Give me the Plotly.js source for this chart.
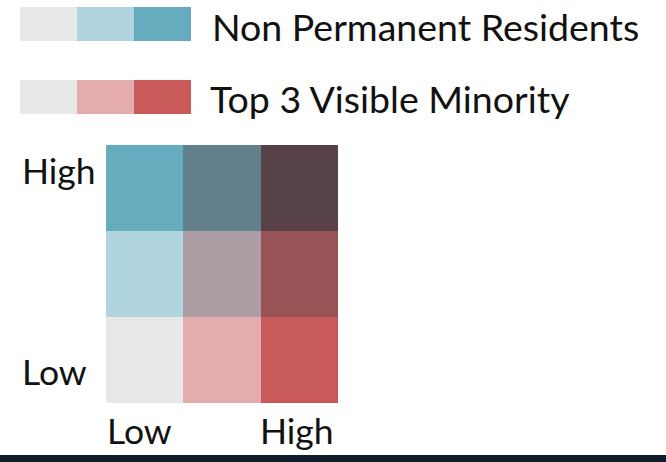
<!DOCTYPE html>
<html>
<head>
<meta charset="utf-8">
<script src="https://cdn.plot.ly/plotly-3.0.1.min.js"></script>
<style>
  html, body { margin: 0; padding: 0; background: #ffffff; }
  #chart { width: 666px; height: 462px; }
</style>
</head>
<body>
<div id="chart"></div>
<script>
// ---- data ----
const classColors = ['#e8e8e8', '#e4acac', '#c85a5a',
                     '#b0d5df', '#ad9ea5', '#985356',
                     '#64acbe', '#627f8c', '#574249'];
const levels = [0, 1, 2];
const gridZ = [[0, 1, 2], [3, 4, 5], [6, 7, 8]];   // rows: Non Permanent Residents Low->High, cols: Top 3 Visible Minority Low->High
const nprBarZ = [[0, 3, 6]];
const vmBarZ = [[0, 1, 2]];
const nprLabel = 'Non Permanent Residents';
const vmLabel = 'Top 3 Visible Minority';
const lowLabel = 'Low';
const highLabel = 'High';

// ---- build ----
const W = 666, H = 462;
const px = v => v / W;
const py = v => (H - v) / H;

const colorscale = classColors.map((c, i) => [i / (classColors.length - 1), c]);

const base = {
  type: 'heatmap', colorscale: colorscale, zmin: 0, zmax: classColors.length - 1,
  showscale: false, hoverinfo: 'skip', xgap: 0, ygap: 0
};

const traces = [
  Object.assign({}, base, { z: gridZ, x: levels, y: levels, xaxis: 'x', yaxis: 'y' }),
  Object.assign({}, base, { z: nprBarZ, x: levels, y: [0], xaxis: 'x2', yaxis: 'y2' }),
  Object.assign({}, base, { z: vmBarZ, x: levels, y: [0], xaxis: 'x3', yaxis: 'y3' })
];

const hid = { visible: false, fixedrange: true };
const fontFam = 'Lato, "Open Sans", sans-serif';
const txt = (text, x, y, size, xa) => ({
  text: text, xref: 'paper', yref: 'paper', x: x, y: y,
  xanchor: xa || 'left', yanchor: 'middle', showarrow: false,
  font: { family: fontFam, size: size, color: '#111111' }
});

const layout = {
  width: W, height: H,
  margin: { l: 0, r: 0, t: 0, b: 0, pad: 0 },
  paper_bgcolor: '#ffffff', plot_bgcolor: 'rgba(0,0,0,0)',
  showlegend: false,
  xaxis: Object.assign({ domain: [px(106), px(338)], range: [-0.5, 2.5], anchor: 'y' }, hid),
  yaxis: Object.assign({ domain: [py(403), py(145)], range: [-0.5, 2.5], anchor: 'x' }, hid),
  xaxis2: Object.assign({ domain: [px(20), px(191)], range: [-0.5, 2.5], anchor: 'y2' }, hid),
  yaxis2: Object.assign({ domain: [py(41), py(7)], range: [-0.5, 0.5], anchor: 'x2' }, hid),
  xaxis3: Object.assign({ domain: [px(20), px(191)], range: [-0.5, 2.5], anchor: 'y3' }, hid),
  yaxis3: Object.assign({ domain: [py(114), py(80)], range: [-0.5, 0.5], anchor: 'x3' }, hid),
  annotations: [
    txt(nprLabel, px(210), py(27), 37.5),
    txt(vmLabel, px(208), py(98), 37.5),
    txt(highLabel, px(20), py(171), 35.5),
    txt(lowLabel, px(20), py(371), 35.5),
    txt(lowLabel, px(105), py(430), 35.5),
    txt(highLabel, px(336), py(430), 35.5, 'right')
  ],
  shapes: [
    { type: 'rect', xref: 'paper', yref: 'paper', x0: 0, x1: 1, y0: 0, y1: py(455),
      fillcolor: '#0e1d2a', line: { width: 0 }, layer: 'above' }
  ]
};

Plotly.newPlot('chart', traces, layout, { staticPlot: true, displayModeBar: false });
</script>
</body>
</html>
